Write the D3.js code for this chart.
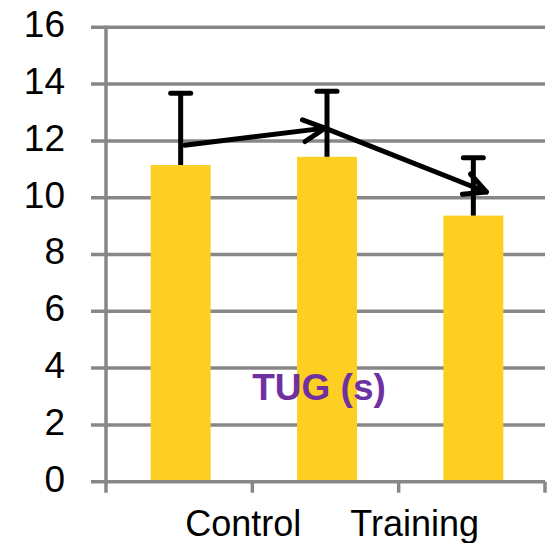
<!DOCTYPE html>
<html>
<head>
<meta charset="utf-8">
<script src="https://cdn.jsdelivr.net/npm/d3@7"></script>
<style>
  html, body { margin: 0; padding: 0; background: #fff; }
  svg { display: block; }
  text { font-family: "Liberation Sans", Arial, sans-serif; }
</style>
</head>
<body>
<svg id="chart" width="550" height="543"></svg>
<script>
// ---- data ----
const categories = ["A", "B", "C"];
const barValues = [11.15, 11.44, 9.37];
const errorPlus = [2.53, 2.31, 2.04];
const categoryLabels = ["Control", "Training"];
const yTicks = [0, 2, 4, 6, 8, 10, 12, 14, 16];
const trendValues = [11.85, 12.45, 10.2];
const chartTitle = "TUG (s)";

// ---- layout ----
const svg = d3.select("#chart");
const x = d3.scaleBand().domain(categories).range([106, 545]);
const y = d3.scaleLinear().domain([0, 16]).range([481.7, 27.3]);
const grey = "#878787";
const gold = "#FDCF22";

// gridlines
svg.append("g").selectAll("line").data(yTicks).join("line")
  .attr("x1", 91).attr("x2", 545)
  .attr("y1", d => y(d)).attr("y2", d => y(d))
  .attr("stroke", grey).attr("stroke-width", 3.5);

// y axis line
svg.append("line")
  .attr("x1", x.range()[0]).attr("x2", x.range()[0])
  .attr("y1", y(16) - 1.5).attr("y2", y(0))
  .attr("stroke", grey).attr("stroke-width", 3.5);

// y tick labels via axis
const yAxis = svg.append("g")
  .attr("transform", `translate(${x.range()[0]},0)`)
  .call(d3.axisLeft(y).tickValues(yTicks).tickSize(14).tickPadding(27).tickFormat(d3.format("d")));
yAxis.select(".domain").remove();
yAxis.selectAll(".tick line").remove();
yAxis.selectAll("text")
  .attr("font-size", 37).attr("fill", "#000").attr("dy", "9.4px")
  .style("font-family", "'Liberation Sans', Arial, sans-serif");

// x ticks at band boundaries
const boundaries = categories.map(c => x(c)).concat([x.range()[1]]);
svg.append("g").selectAll("line").data(boundaries).join("line")
  .attr("x1", d => d).attr("x2", d => d)
  .attr("y1", y(0)).attr("y2", y(0) + 11)
  .attr("stroke", grey).attr("stroke-width", 3.5);

// bars
const bw = x.bandwidth() * 0.41;
const cx = c => x(c) + x.bandwidth() / 2 + 1.5;
svg.append("g").selectAll("rect").data(categories).join("rect")
  .attr("x", c => cx(c) - bw / 2)
  .attr("width", bw)
  .attr("y", (c, i) => y(barValues[i]))
  .attr("height", (c, i) => y(0) - y(barValues[i]) - 1.7)
  .attr("fill", gold);

// error bars
const eb = svg.append("g").attr("stroke", "#000").attr("stroke-linecap", "round");
categories.forEach((c, i) => {
  const top = y(barValues[i] + errorPlus[i]);
  eb.append("line").attr("x1", cx(c)).attr("x2", cx(c))
    .attr("y1", y(barValues[i])).attr("y2", top)
    .attr("stroke-width", 5).attr("stroke-linecap", "butt");
  eb.append("line").attr("x1", cx(c) - 10).attr("x2", cx(c) + 10)
    .attr("y1", top).attr("y2", top).attr("stroke-width", 5);
});

// trend arrows
const trendX = [cx("A") + 4, cx("B") - 2, cx("C") + 13];
const pts = trendValues.map((v, i) => [trendX[i], y(v)]);
const ag = svg.append("g").attr("stroke", "#000").attr("stroke-width", 5)
  .attr("fill", "none").attr("stroke-linecap", "round").attr("stroke-linejoin", "round");
function arrow(p0, p1) {
  ag.append("line").attr("x1", p0[0]).attr("y1", p0[1]).attr("x2", p1[0]).attr("y2", p1[1]);
  const ang = Math.atan2(p0[1] - p1[1], p0[0] - p1[0]);
  const L = 24, a = 27 * Math.PI / 180;
  const w1 = [p1[0] + L * Math.cos(ang + a), p1[1] + L * Math.sin(ang + a)];
  const w2 = [p1[0] + L * Math.cos(ang - a), p1[1] + L * Math.sin(ang - a)];
  ag.append("polyline").attr("points", [w1, p1, w2].map(p => p.join(",")).join(" "));
}
arrow(pts[0], pts[1]);
arrow(pts[1], pts[2]);

// category labels
const labelX = [x("B") - 9, x("C") + 16];
svg.append("g").selectAll("text").data(categoryLabels).join("text")
  .attr("x", (d, i) => labelX[i]).attr("y", 536)
  .attr("text-anchor", "middle").attr("font-size", 36).attr("fill", "#000")
  .text(d => d);

// title inside plot
svg.append("text")
  .attr("x", 319).attr("y", 399.5)
  .attr("text-anchor", "middle").attr("font-size", 37).attr("font-weight", "bold")
  .attr("fill", "#7030A0")
  .text(chartTitle);
</script>
</body>
</html>
